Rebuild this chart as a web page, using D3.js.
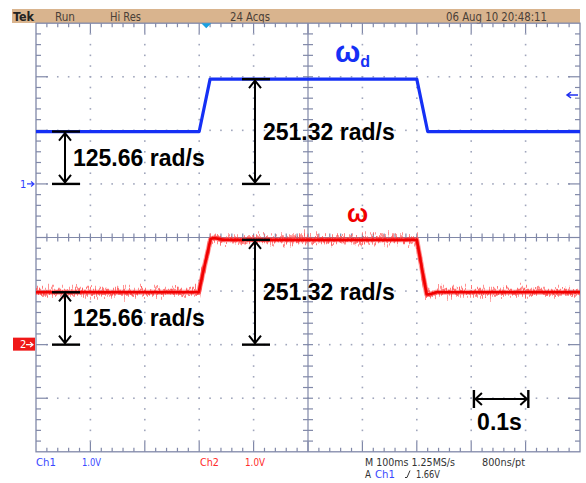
<!DOCTYPE html>
<html>
<head>
<meta charset="utf-8">
<script src="https://cdn.jsdelivr.net/npm/d3@7"></script>
<style>
  body { margin: 0; background: #fff; }
  svg { display: block; }
</style>
</head>
<body>
<svg id="scope" width="586" height="483"></svg>
<script>
// Speed command (Ch1) and measured speed (Ch2): time in ms from the screen's left edge, speed in rad/s
const refTime   = [0, 300, 320, 700, 720, 1000];
const refSpeed  = [125.66, 125.66, 251.32, 251.32, 125.66, 125.66];
const measTime  = [0, 299, 321, 327, 345, 700, 718, 722, 736, 1000];
const measSpeed = [125.66, 125.66, 253.5, 256, 251.32, 251.32, 121, 120.5, 125.66, 125.66];

// Status bar texts
const headerLabels = ["Tek", "Run", "Hi Res", "24 Acqs", "06 Aug 10 20:48:11"];
const headerX      = [13, 55, 110, 230, 446];
const headerW      = [21, 20, 31, 40, 101];

// Scope settings
const timePerDiv = 100;     // ms/div
const radPerDiv  = 128.5;   // rad/s per division on both channels
const ch1Pos = 1, ch2Pos = -2;   // channel ground positions, in divisions
const trigLevel = 1.66;          // V (1.0 V/div)
const trigTime = 313;            // ms
const stepLow = 125.66, stepHigh = 251.32, scaleBar = 100;

const svg = d3.select("#scope");
const x = d3.scaleLinear().domain([0, 10 * timePerDiv]).range([36, 580]);
const yDiv = d3.scaleLinear().domain([-4, 4]).range([451.8, 23.2]);
const y1 = d3.scaleLinear().domain([0, radPerDiv]).range([yDiv(ch1Pos), yDiv(ch1Pos + 1)]);
const y2 = d3.scaleLinear().domain([0, radPerDiv]).range([yDiv(ch2Pos), yDiv(ch2Pos + 1)]);
const xDiv = d3.scaleLinear().domain([-5, 5]).range([36, 580]);

const gridCol = "#8088a8";
const narrow = "'Liberation Sans Narrow', 'DejaVu Sans Condensed', 'Liberation Sans', sans-serif";

// noise textures for the Hi-Res acquisition of Ch2 (vertical displacement only)
const defs = svg.append("defs");
function noiseFilter(id, freq, seed, scale) {
  const f = defs.append("filter").attr("id", id)
    .attr("filterUnits", "userSpaceOnUse").attr("x", 0).attr("y", 0)
    .attr("width", 586).attr("height", 483);
  f.append("feTurbulence").attr("type", "fractalNoise").attr("baseFrequency", freq)
    .attr("numOctaves", 2).attr("seed", seed).attr("result", "n");
  f.append("feColorMatrix").attr("in", "n").attr("type", "matrix")
    .attr("values", "0 0 0 0 0.5  0 1 0 0 0  0 0 0 0 0  0 0 0 0 1").attr("result", "nv");
  f.append("feDisplacementMap").attr("in", "SourceGraphic").attr("in2", "nv")
    .attr("scale", scale).attr("xChannelSelector", "R").attr("yChannelSelector", "G");
}
noiseFilter("acqNoiseA", "0.7 0.04", 7, 26);
noiseFilter("acqNoiseB", "0.9 0.05", 23, 18);

// ---- status bar ----
svg.append("rect").attr("x", 12).attr("y", 9).attr("width", 568).attr("height", 14).attr("fill", "#d9b48e");
svg.selectAll("text.hdr").data(headerLabels).join("text")
  .attr("class", "hdr")
  .attr("x", (d, i) => headerX[i]).attr("y", 20.5)
  .attr("textLength", (d, i) => headerW[i]).attr("lengthAdjust", "spacingAndGlyphs")
  .attr("font-family", narrow).attr("font-size", 12)
  .attr("font-weight", (d, i) => i === 0 ? "bold" : "normal")
  .attr("fill", (d, i) => i === 0 ? "#222" : "#4a4038")
  .text(d => d);

// ---- graticule ----
const g = svg.append("g");
const minor = d3.range(-25, 26).map(i => i / 5);   // 0.2 div steps horizontally
const minorV = d3.range(-20, 21).map(i => i / 5);  // 0.2 div steps vertically

// dotted division lines
const dots = [];
d3.range(-4, 5).filter(i => i !== 0).forEach(i => {
  minorV.forEach(v => { if (Math.abs(v) < 4) dots.push([xDiv(i), yDiv(v)]); });
});
d3.range(-3, 4).filter(i => i !== 0).forEach(j => {
  minor.forEach(h => { if (Math.abs(h) < 5) dots.push([xDiv(h), yDiv(j)]); });
});
g.selectAll("rect.dot").data(dots).join("rect").attr("class", "dot")
  .attr("x", d => d[0] - 0.8).attr("y", d => d[1] - 0.8)
  .attr("width", 1.6).attr("height", 1.6).attr("fill", "#a0a6bc");

// center cross
g.append("line").attr("x1", xDiv(0)).attr("x2", xDiv(0)).attr("y1", yDiv(4)).attr("y2", yDiv(-4))
  .attr("stroke", gridCol).attr("stroke-width", 1.2);
g.append("line").attr("x1", xDiv(-5)).attr("x2", xDiv(5)).attr("y1", yDiv(0)).attr("y2", yDiv(0))
  .attr("stroke", gridCol).attr("stroke-width", 1.2);
g.selectAll("line.ct").data(minorV.filter(v => Math.abs(v) < 4)).join("line").attr("class", "ct")
  .attr("x1", xDiv(0) - 5).attr("x2", xDiv(0) + 5).attr("y1", d => yDiv(d)).attr("y2", d => yDiv(d))
  .attr("stroke", gridCol).attr("stroke-width", 1.2);
g.selectAll("line.ch").data(minor.filter(h => Math.abs(h) < 5)).join("line").attr("class", "ch")
  .attr("y1", yDiv(0) - 4).attr("y2", yDiv(0) + 4).attr("x1", d => xDiv(d)).attr("x2", d => xDiv(d))
  .attr("stroke", gridCol).attr("stroke-width", 1.2);

// frame
g.append("rect").attr("x", xDiv(-5)).attr("y", yDiv(4)).attr("width", xDiv(5) - xDiv(-5))
  .attr("height", yDiv(-4) - yDiv(4)).attr("fill", "none").attr("stroke", gridCol).attr("stroke-width", 1.3);
const isMajor = v => Math.abs(v - Math.round(v)) < 1e-6;
const tl = v => isMajor(v) ? 10 : 4;
minor.filter(h => Math.abs(h) < 5).forEach(h => {
  g.append("line").attr("x1", xDiv(h)).attr("x2", xDiv(h)).attr("y1", yDiv(4)).attr("y2", yDiv(4) + tl(h))
    .attr("stroke", gridCol).attr("stroke-width", 1.2);
  g.append("line").attr("x1", xDiv(h)).attr("x2", xDiv(h)).attr("y1", yDiv(-4)).attr("y2", yDiv(-4) - tl(h))
    .attr("stroke", gridCol).attr("stroke-width", 1.2);
});
minorV.filter(v => Math.abs(v) < 4).forEach(v => {
  g.append("line").attr("y1", yDiv(v)).attr("y2", yDiv(v)).attr("x1", xDiv(-5)).attr("x2", xDiv(-5) + tl(v) + (isMajor(v) ? 2 : 1))
    .attr("stroke", gridCol).attr("stroke-width", 1.2);
  g.append("line").attr("y1", yDiv(v)).attr("y2", yDiv(v)).attr("x1", xDiv(5)).attr("x2", xDiv(5) - tl(v) - (isMajor(v) ? 2 : 1))
    .attr("stroke", gridCol).attr("stroke-width", 1.2);
});

// ---- traces ----
const refData = refTime.map((t, i) => [t, refSpeed[i]]);
const measData = measTime.map((t, i) => [t, measSpeed[i]]);
const line1 = d3.line().x(d => x(d[0])).y(d => y1(d[1]));
const line2 = d3.line().x(d => x(d[0])).y(d => y2(d[1]));

svg.append("path").attr("d", line2(measData)).attr("fill", "none")
  .attr("stroke", "#ff7070").attr("stroke-width", 3.2).attr("opacity", 0.75)
  .attr("filter", "url(#acqNoiseA)");
svg.append("path").attr("d", line2(measData)).attr("fill", "none")
  .attr("stroke", "#ff5050").attr("stroke-width", 3).attr("opacity", 0.75)
  .attr("filter", "url(#acqNoiseB)");
svg.append("path").attr("d", line2(measData)).attr("fill", "none")
  .attr("stroke", "#ff3030").attr("stroke-width", 5).attr("opacity", 0.5).attr("stroke-linejoin", "round");
svg.append("path").attr("d", line2(measData)).attr("fill", "none")
  .attr("stroke", "#f00000").attr("stroke-width", 2.6).attr("stroke-linejoin", "round");

svg.append("path").attr("d", line1(refData)).attr("fill", "none")
  .attr("stroke", "#1530f5").attr("stroke-width", 3.2).attr("stroke-linejoin", "round");

// ---- channel markers ----
svg.append("text").attr("x", 20).attr("y", y1(0) + 4).attr("font-family", narrow).attr("font-size", 11)
  .attr("fill", "#3040ff").text("1");
svg.append("path").attr("d", `M27,${y1(0)}H34M31,${y1(0) - 2.5}L34,${y1(0)}L31,${y1(0) + 2.5}`)
  .attr("stroke", "#3040ff").attr("fill", "none").attr("stroke-width", 1.2);
svg.append("rect").attr("x", 13).attr("y", y2(0) - 7).attr("width", 22).attr("height", 13).attr("fill", "#f01818");
svg.append("text").attr("x", 20).attr("y", y2(0) + 3.5).attr("font-family", narrow).attr("font-size", 11)
  .attr("fill", "#fff").text("2");
svg.append("path").attr("d", `M26,${y2(0)}H33M30,${y2(0) - 2.5}L33,${y2(0)}L30,${y2(0) + 2.5}`)
  .attr("stroke", "#fff").attr("fill", "none").attr("stroke-width", 1.2);

// trigger position and level
svg.append("path").attr("d", `M${x(trigTime) - 5},${yDiv(4)}H${x(trigTime) + 5}L${x(trigTime)},${yDiv(4) + 5}Z`)
  .attr("fill", "#1aa0e0");
const tly = yDiv(ch1Pos + trigLevel);
svg.append("path").attr("d", `M567,${tly}H578M571,${tly - 3}L567,${tly}L571,${tly + 3}`)
  .attr("stroke", "#2030f0").attr("fill", "none").attr("stroke-width", 1.5);

// ---- measurement annotations ----
const ann = svg.append("g").attr("stroke", "#000").attr("fill", "none");
function vArrow(xp, ya, yb) {
  const top = Math.min(ya, yb), bot = Math.max(ya, yb);
  ann.append("line").attr("x1", xp).attr("x2", xp).attr("y1", top + 1).attr("y2", bot - 1).attr("stroke-width", 2);
  ann.append("path").attr("d", `M${xp - 6},${top + 9}L${xp},${top + 1.5}L${xp + 6},${top + 9}`).attr("stroke-width", 2);
  ann.append("path").attr("d", `M${xp - 6},${bot - 9}L${xp},${bot - 1.5}L${xp + 6},${bot - 9}`).attr("stroke-width", 2);
  [top, bot].forEach(yy => ann.append("line").attr("x1", xp - 13).attr("x2", xp + 15)
    .attr("y1", yy).attr("y2", yy).attr("stroke-width", 2.4));
}
vArrow(65, y1(0), y1(stepLow));
vArrow(255, y1(0), y1(stepHigh));
vArrow(65, y2(0), y2(stepLow));
vArrow(255, y2(0), y2(stepHigh));

// time scale bar
const sx0 = x(805), sx1 = x(805 + scaleBar), sy = 399;
ann.append("line").attr("x1", sx0 + 1).attr("x2", sx1 - 1).attr("y1", sy).attr("y2", sy).attr("stroke-width", 2);
ann.append("path").attr("d", `M${sx0 + 8},${sy - 6}L${sx0 + 1.5},${sy}L${sx0 + 8},${sy + 6}`).attr("stroke-width", 2);
ann.append("path").attr("d", `M${sx1 - 8},${sy - 6}L${sx1 - 1.5},${sy}L${sx1 - 8},${sy + 6}`).attr("stroke-width", 2);
[sx0, sx1].forEach(xx => ann.append("line").attr("x1", xx).attr("x2", xx).attr("y1", sy - 9).attr("y2", sy + 9).attr("stroke-width", 2.4));

const bold = "'Liberation Sans', Arial, sans-serif";
const labels = [
  { t: stepLow.toFixed(2) + " rad/s", x: 73, y: (y1(0) + y1(stepLow)) / 2 + 8 },
  { t: stepHigh.toFixed(2) + " rad/s", x: 263, y: (y1(0) + y1(stepHigh)) / 2 + 8 },
  { t: stepLow.toFixed(2) + " rad/s", x: 73, y: (y2(0) + y2(stepLow)) / 2 + 8 },
  { t: stepHigh.toFixed(2) + " rad/s", x: 263, y: (y2(0) + y2(stepHigh)) / 2 + 8 },
  { t: (scaleBar / 1000) + "s", x: (sx0 + sx1) / 2 - 24, y: 430 }
];
svg.selectAll("text.ann").data(labels).join("text").attr("class", "ann")
  .attr("x", d => d.x).attr("y", d => d.y)
  .attr("font-family", bold).attr("font-weight", "bold").attr("font-size", 23).attr("fill", "#000")
  .text(d => d.t);

// channel names
const wd = svg.append("text").attr("x", 335).attr("y", 62).attr("font-family", bold)
  .attr("font-weight", "bold").attr("font-size", 30).attr("fill", "#1530f5");
wd.append("tspan").text("ω");
wd.append("tspan").attr("font-size", 16).attr("dy", 5).text("d");
svg.append("text").attr("x", 347).attr("y", 222).attr("font-family", bold)
  .attr("font-weight", "bold").attr("font-size", 25).attr("fill", "#f00000").text("ω");

// ---- readout ----
const readout = [
  { t: "Ch1", x: 36, y: 466, w: 20, c: "#3a48ff" },
  { t: "1.0V", x: 82, y: 466, w: 19, c: "#3a48ff" },
  { t: "Ch2", x: 200, y: 466, w: 19, c: "#ff2a2a" },
  { t: "1.0V", x: 245, y: 466, w: 20, c: "#ff2a2a" },
  { t: "M 100ms 1.25MS/s", x: 365, y: 466, w: 90, c: "#333" },
  { t: "800ns/pt", x: 482, y: 466, w: 43, c: "#333" },
  { t: "A", x: 365, y: 478, w: 6, c: "#333" },
  { t: "Ch1", x: 375, y: 478, w: 20, c: "#3a48ff" },
  { t: "1.66V", x: 416, y: 478, w: 24, c: "#333" }
];
svg.selectAll("text.ro").data(readout).join("text").attr("class", "ro")
  .attr("x", d => d.x).attr("y", d => d.y).attr("fill", d => d.c)
  .attr("textLength", d => d.w).attr("lengthAdjust", "spacingAndGlyphs")
  .attr("font-family", narrow).attr("font-size", 10.5).text(d => d.t);
// rising-edge slope symbol
svg.append("path").attr("d", "M405,477.5L407,477.5L410,470.5").attr("stroke", "#333").attr("fill", "none").attr("stroke-width", 1);
</script>
</body>
</html>
